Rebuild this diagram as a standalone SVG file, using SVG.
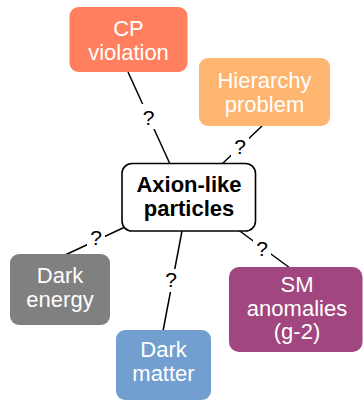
<svg xmlns="http://www.w3.org/2000/svg" width="363" height="402" viewBox="0 0 363 402">
<style>
.t{font-family:"Liberation Sans",Arial,sans-serif;font-size:22px;fill:#fff;text-anchor:middle}
.c{font-family:"Liberation Sans",Arial,sans-serif;font-size:22px;font-weight:bold;fill:#000;text-anchor:middle}
.q{font-family:"Liberation Sans",Arial,sans-serif;font-size:21px;fill:#000;text-anchor:middle}
.e{stroke:#000;stroke-width:1.5;fill:none}
.bg{fill:#fff}
</style>
<rect width="363" height="402" fill="#fff"/>
<g id="connectors">
<line class="e" x1="128" y1="72" x2="170" y2="164"/>
<line class="e" x1="262" y1="126" x2="222" y2="164"/>
<line class="e" x1="125" y1="227" x2="63" y2="256"/>
<line class="e" x1="182" y1="231" x2="163" y2="331"/>
<line class="e" x1="237" y1="229" x2="290" y2="268"/>
<rect class="bg" x="140" y="104" width="17" height="25"/>
<text class="q" x="148.5" y="124.5">?</text>
<rect class="bg" x="231" y="135" width="18" height="23"/>
<text class="q" x="240" y="154">?</text>
<rect class="bg" x="87" y="227" width="18" height="22"/>
<text class="q" x="96" y="245">?</text>
<rect class="bg" x="163" y="269" width="17" height="23"/>
<text class="q" x="171" y="287">?</text>
<rect class="bg" x="253" y="237" width="18" height="23"/>
<text class="q" x="262" y="256">?</text>
</g>
<g id="cp">
<rect x="69.5" y="7" width="118" height="65" rx="9" fill="#FF7F5E"/>
<text class="t" x="128.5" y="35.5">CP</text>
<text class="t" x="128.5" y="59.5">violation</text>
</g>
<g id="hierarchy">
<rect x="199" y="58" width="131" height="68" rx="9" fill="#FDB56F"/>
<text class="t" x="264.5" y="88">Hierarchy</text>
<text class="t" x="264.5" y="112">problem</text>
</g>
<g id="axion">
<rect x="122" y="163.5" width="133.5" height="67.5" rx="10" fill="#fff" stroke="#000" stroke-width="1.6"/>
<text class="c" x="189" y="192">Axion-like</text>
<text class="c" x="189" y="216">particles</text>
</g>
<g id="darkenergy">
<rect x="10" y="254" width="100" height="71" rx="9" fill="#808080"/>
<text class="t" x="60" y="283">Dark</text>
<text class="t" x="60" y="307">energy</text>
</g>
<g id="darkmatter">
<rect x="116" y="330" width="95" height="70" rx="9" fill="#729FCF"/>
<text class="t" x="163.5" y="357">Dark</text>
<text class="t" x="163.5" y="381">matter</text>
</g>
<g id="sm">
<rect x="229" y="267" width="133.5" height="85" rx="10" fill="#A1467E"/>
<text class="t" x="297" y="292">SM</text>
<text class="t" x="297" y="316">anomalies</text>
<text class="t" x="297" y="339">(g-2)</text>
</g>
</svg>
